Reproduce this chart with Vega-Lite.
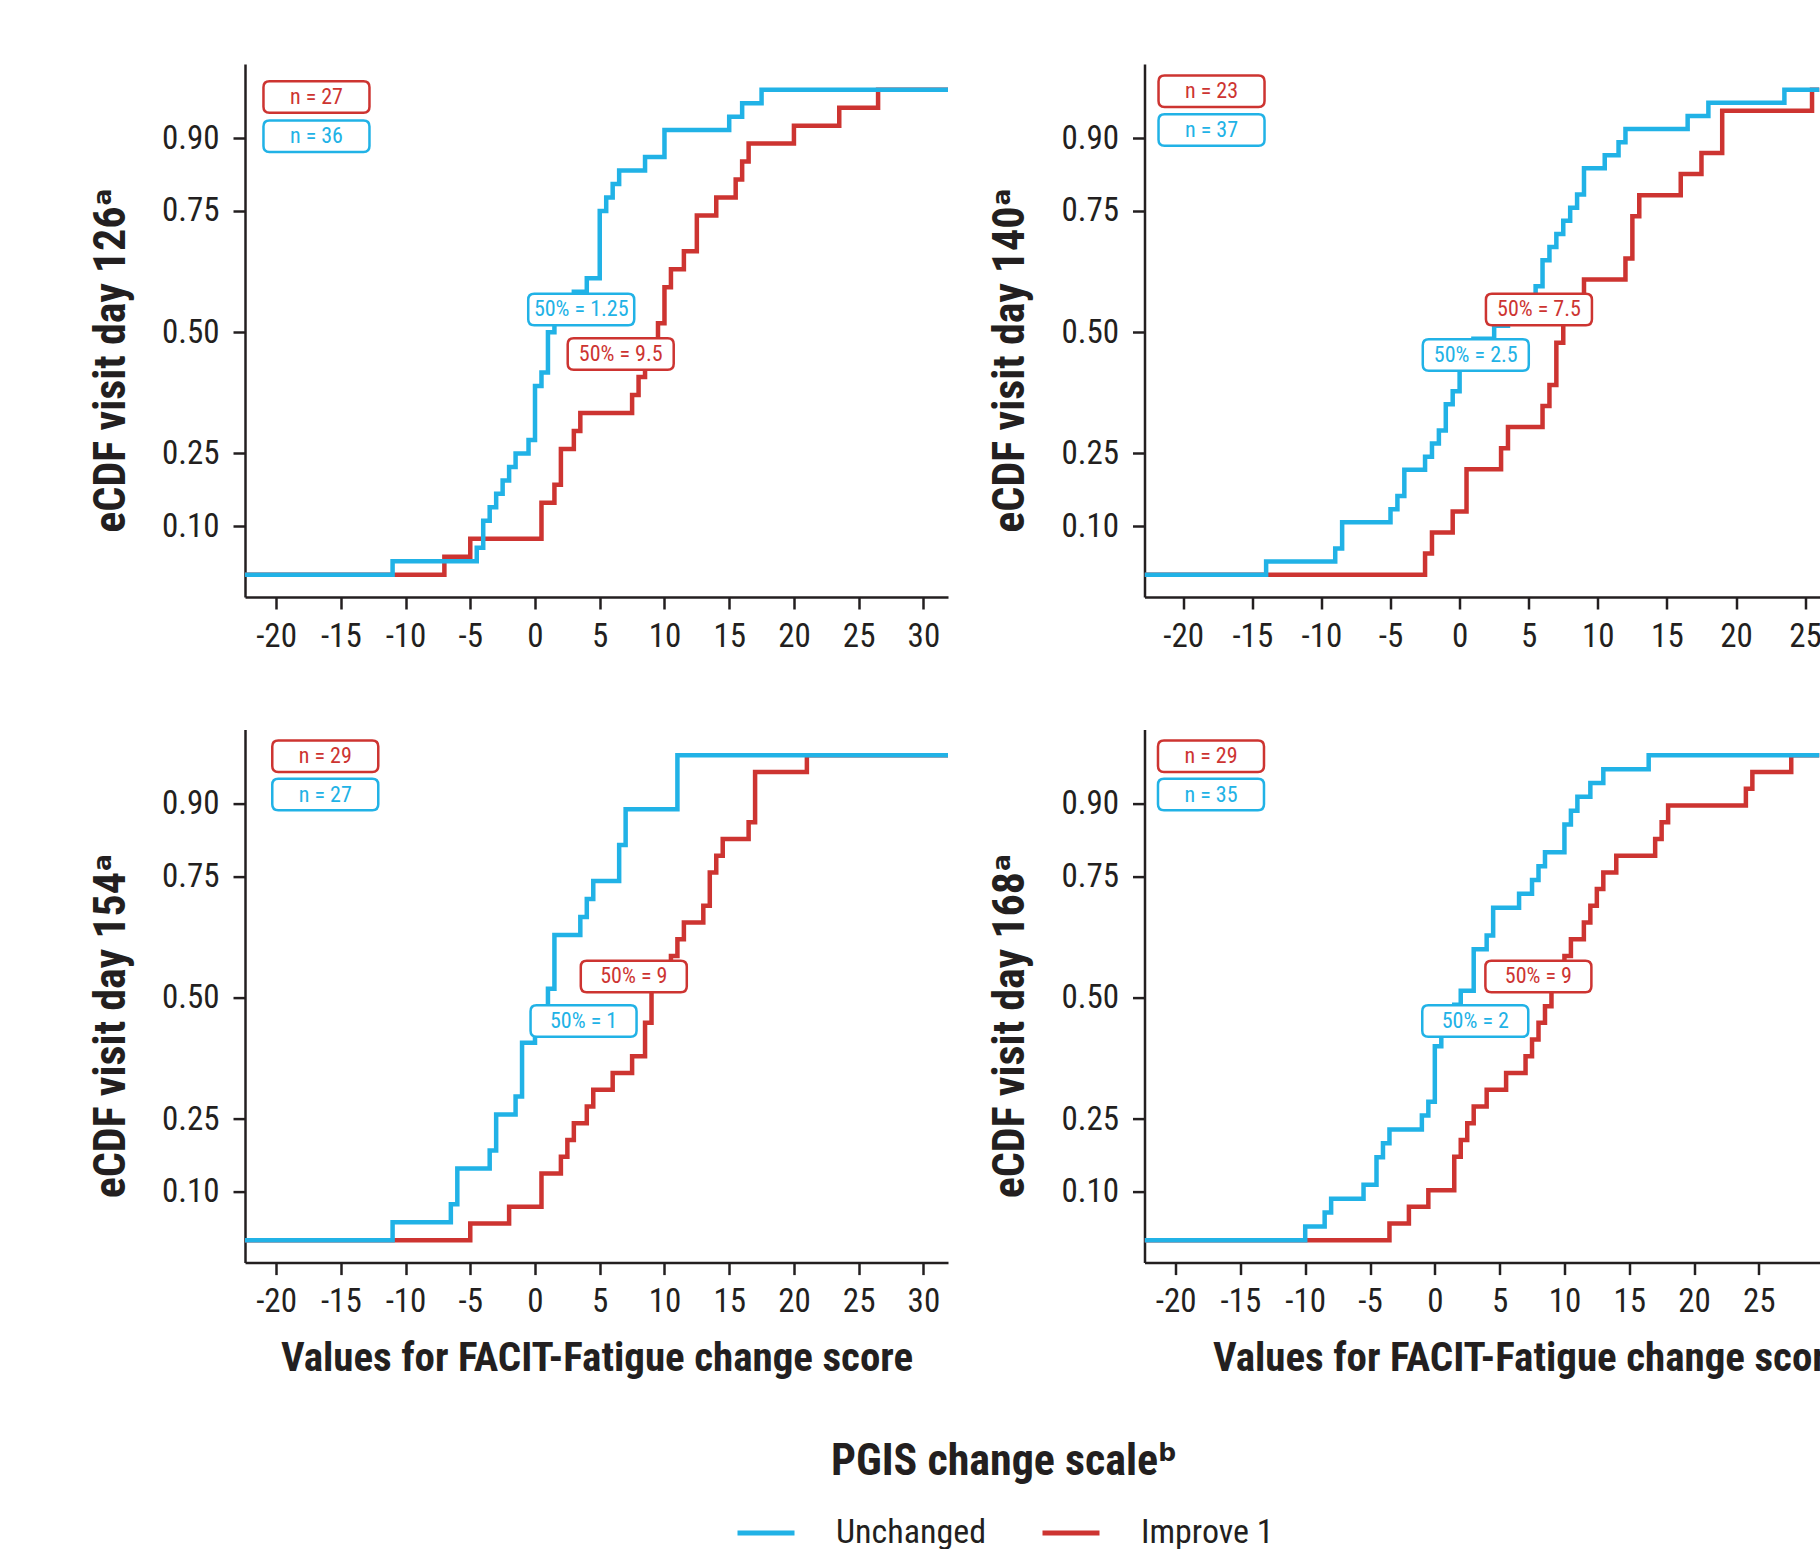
{
  "$schema": "https://vega.github.io/schema/vega-lite/v6.json",
  "padding": {"left": 89, "top": 64, "right": 0, "bottom": 0},
  "config": {
    "font": "Roboto Condensed, DejaVu Sans Condensed, Liberation Sans, sans-serif",
    "view": {"stroke": null},
    "axis": {
      "domainColor": "#231f20", "domainWidth": 2.5, "tickColor": "#231f20", "tickWidth": 2.5, "tickSize": 12,
      "labelFont": "Roboto Condensed, DejaVu Sans Condensed, Liberation Sans, sans-serif", "labelFontSize": 33, "labelColor": "#231f20",
      "titleFont": "Roboto Condensed, DejaVu Sans Condensed, Liberation Sans, sans-serif", "titleFontWeight": "bold", "titleColor": "#231f20",
      "grid": false, "labelOverlap": false, "labelBound": false
    },
    "axisX": {"labelPadding": 11},
    "axisY": {"labelPadding": 14}
  },
  "datasets": {
    "ecdf": [
      {"p":1,"g":"Unchanged","x":-22.4,"y":0},{"p":1,"g":"Unchanged","x":-11,"y":0.0278},{"p":1,"g":"Unchanged","x":-4.5,"y":0.0556},{"p":1,"g":"Unchanged","x":-4,"y":0.1111},{"p":1,"g":"Unchanged","x":-3.5,"y":0.1389},{"p":1,"g":"Unchanged","x":-3,"y":0.1667},{"p":1,"g":"Unchanged","x":-2.5,"y":0.1944},{"p":1,"g":"Unchanged","x":-2,"y":0.2222},{"p":1,"g":"Unchanged","x":-1.5,"y":0.25},{"p":1,"g":"Unchanged","x":-0.5,"y":0.2778},{"p":1,"g":"Unchanged","x":0,"y":0.3889},{"p":1,"g":"Unchanged","x":0.5,"y":0.4167},{"p":1,"g":"Unchanged","x":1,"y":0.5},{"p":1,"g":"Unchanged","x":1.5,"y":0.5278},{"p":1,"g":"Unchanged","x":2.5,"y":0.5556},{"p":1,"g":"Unchanged","x":3,"y":0.5833},{"p":1,"g":"Unchanged","x":4,"y":0.6111},{"p":1,"g":"Unchanged","x":5,"y":0.75},{"p":1,"g":"Unchanged","x":5.5,"y":0.7778},{"p":1,"g":"Unchanged","x":6,"y":0.8056},{"p":1,"g":"Unchanged","x":6.5,"y":0.8333},{"p":1,"g":"Unchanged","x":8.5,"y":0.8611},{"p":1,"g":"Unchanged","x":10,"y":0.9167},{"p":1,"g":"Unchanged","x":15,"y":0.9444},{"p":1,"g":"Unchanged","x":16,"y":0.9722},{"p":1,"g":"Unchanged","x":17.5,"y":1},{"p":1,"g":"Unchanged","x":31.9,"y":1},
      {"p":1,"g":"Improve 1","x":-22.4,"y":0},{"p":1,"g":"Improve 1","x":-7,"y":0.037},{"p":1,"g":"Improve 1","x":-5,"y":0.0741},{"p":1,"g":"Improve 1","x":0.5,"y":0.1481},{"p":1,"g":"Improve 1","x":1.5,"y":0.1852},{"p":1,"g":"Improve 1","x":2,"y":0.2593},{"p":1,"g":"Improve 1","x":3,"y":0.2963},{"p":1,"g":"Improve 1","x":3.5,"y":0.3333},{"p":1,"g":"Improve 1","x":7.5,"y":0.3704},{"p":1,"g":"Improve 1","x":8,"y":0.4074},{"p":1,"g":"Improve 1","x":8.5,"y":0.4444},{"p":1,"g":"Improve 1","x":9,"y":0.4815},{"p":1,"g":"Improve 1","x":9.5,"y":0.5185},{"p":1,"g":"Improve 1","x":10,"y":0.5926},{"p":1,"g":"Improve 1","x":10.5,"y":0.6296},{"p":1,"g":"Improve 1","x":11.5,"y":0.6667},{"p":1,"g":"Improve 1","x":12.5,"y":0.7407},{"p":1,"g":"Improve 1","x":14,"y":0.7778},{"p":1,"g":"Improve 1","x":15.5,"y":0.8148},{"p":1,"g":"Improve 1","x":16,"y":0.8519},{"p":1,"g":"Improve 1","x":16.5,"y":0.8889},{"p":1,"g":"Improve 1","x":20,"y":0.9259},{"p":1,"g":"Improve 1","x":23.5,"y":0.963},{"p":1,"g":"Improve 1","x":26.5,"y":1},{"p":1,"g":"Improve 1","x":31.9,"y":1},
      {"p":2,"g":"Unchanged","x":-22.8,"y":0},{"p":2,"g":"Unchanged","x":-14,"y":0.027},{"p":2,"g":"Unchanged","x":-9,"y":0.0541},{"p":2,"g":"Unchanged","x":-8.5,"y":0.1081},{"p":2,"g":"Unchanged","x":-5,"y":0.1351},{"p":2,"g":"Unchanged","x":-4.5,"y":0.1622},{"p":2,"g":"Unchanged","x":-4,"y":0.2162},{"p":2,"g":"Unchanged","x":-2.5,"y":0.2432},{"p":2,"g":"Unchanged","x":-2,"y":0.2703},{"p":2,"g":"Unchanged","x":-1.5,"y":0.2973},{"p":2,"g":"Unchanged","x":-1,"y":0.3514},{"p":2,"g":"Unchanged","x":-0.5,"y":0.3784},{"p":2,"g":"Unchanged","x":0,"y":0.4324},{"p":2,"g":"Unchanged","x":0.5,"y":0.4595},{"p":2,"g":"Unchanged","x":1,"y":0.4865},{"p":2,"g":"Unchanged","x":2.5,"y":0.5135},{"p":2,"g":"Unchanged","x":3.5,"y":0.5405},{"p":2,"g":"Unchanged","x":4.5,"y":0.5676},{"p":2,"g":"Unchanged","x":5.5,"y":0.5946},{"p":2,"g":"Unchanged","x":6,"y":0.6486},{"p":2,"g":"Unchanged","x":6.5,"y":0.6757},{"p":2,"g":"Unchanged","x":7,"y":0.7027},{"p":2,"g":"Unchanged","x":7.5,"y":0.7297},{"p":2,"g":"Unchanged","x":8,"y":0.7568},{"p":2,"g":"Unchanged","x":8.5,"y":0.7838},{"p":2,"g":"Unchanged","x":9,"y":0.8378},{"p":2,"g":"Unchanged","x":10.5,"y":0.8649},{"p":2,"g":"Unchanged","x":11.5,"y":0.8919},{"p":2,"g":"Unchanged","x":12,"y":0.9189},{"p":2,"g":"Unchanged","x":16.5,"y":0.9459},{"p":2,"g":"Unchanged","x":18,"y":0.973},{"p":2,"g":"Unchanged","x":23.5,"y":1},{"p":2,"g":"Unchanged","x":26.04,"y":1},
      {"p":2,"g":"Improve 1","x":-22.8,"y":0},{"p":2,"g":"Improve 1","x":-2.5,"y":0.0435},{"p":2,"g":"Improve 1","x":-2,"y":0.087},{"p":2,"g":"Improve 1","x":-0.5,"y":0.1304},{"p":2,"g":"Improve 1","x":0.5,"y":0.2174},{"p":2,"g":"Improve 1","x":3,"y":0.2609},{"p":2,"g":"Improve 1","x":3.5,"y":0.3043},{"p":2,"g":"Improve 1","x":6,"y":0.3478},{"p":2,"g":"Improve 1","x":6.5,"y":0.3913},{"p":2,"g":"Improve 1","x":7,"y":0.4783},{"p":2,"g":"Improve 1","x":7.5,"y":0.5217},{"p":2,"g":"Improve 1","x":8,"y":0.5652},{"p":2,"g":"Improve 1","x":9,"y":0.6087},{"p":2,"g":"Improve 1","x":12,"y":0.6522},{"p":2,"g":"Improve 1","x":12.5,"y":0.7391},{"p":2,"g":"Improve 1","x":13,"y":0.7826},{"p":2,"g":"Improve 1","x":16,"y":0.8261},{"p":2,"g":"Improve 1","x":17.5,"y":0.8696},{"p":2,"g":"Improve 1","x":19,"y":0.9565},{"p":2,"g":"Improve 1","x":25.5,"y":1},{"p":2,"g":"Improve 1","x":26.04,"y":1},
      {"p":3,"g":"Unchanged","x":-22.4,"y":0},{"p":3,"g":"Unchanged","x":-11,"y":0.037},{"p":3,"g":"Unchanged","x":-6.5,"y":0.0741},{"p":3,"g":"Unchanged","x":-6,"y":0.1481},{"p":3,"g":"Unchanged","x":-3.5,"y":0.1852},{"p":3,"g":"Unchanged","x":-3,"y":0.2593},{"p":3,"g":"Unchanged","x":-1.5,"y":0.2963},{"p":3,"g":"Unchanged","x":-1,"y":0.4074},{"p":3,"g":"Unchanged","x":0,"y":0.4444},{"p":3,"g":"Unchanged","x":0.5,"y":0.4815},{"p":3,"g":"Unchanged","x":1,"y":0.5185},{"p":3,"g":"Unchanged","x":1.5,"y":0.6296},{"p":3,"g":"Unchanged","x":3.5,"y":0.6667},{"p":3,"g":"Unchanged","x":4,"y":0.7037},{"p":3,"g":"Unchanged","x":4.5,"y":0.7407},{"p":3,"g":"Unchanged","x":6.5,"y":0.8148},{"p":3,"g":"Unchanged","x":7,"y":0.8889},{"p":3,"g":"Unchanged","x":11,"y":1},{"p":3,"g":"Unchanged","x":31.9,"y":1},
      {"p":3,"g":"Improve 1","x":-22.4,"y":0},{"p":3,"g":"Improve 1","x":-5,"y":0.0345},{"p":3,"g":"Improve 1","x":-2,"y":0.069},{"p":3,"g":"Improve 1","x":0.5,"y":0.1379},{"p":3,"g":"Improve 1","x":2,"y":0.1724},{"p":3,"g":"Improve 1","x":2.5,"y":0.2069},{"p":3,"g":"Improve 1","x":3,"y":0.2414},{"p":3,"g":"Improve 1","x":4,"y":0.2759},{"p":3,"g":"Improve 1","x":4.5,"y":0.3103},{"p":3,"g":"Improve 1","x":6,"y":0.3448},{"p":3,"g":"Improve 1","x":7.5,"y":0.3793},{"p":3,"g":"Improve 1","x":8.5,"y":0.4483},{"p":3,"g":"Improve 1","x":9,"y":0.5172},{"p":3,"g":"Improve 1","x":9.5,"y":0.5517},{"p":3,"g":"Improve 1","x":10.5,"y":0.5862},{"p":3,"g":"Improve 1","x":11,"y":0.6207},{"p":3,"g":"Improve 1","x":11.5,"y":0.6552},{"p":3,"g":"Improve 1","x":13,"y":0.6897},{"p":3,"g":"Improve 1","x":13.5,"y":0.7586},{"p":3,"g":"Improve 1","x":14,"y":0.7931},{"p":3,"g":"Improve 1","x":14.5,"y":0.8276},{"p":3,"g":"Improve 1","x":16.5,"y":0.8621},{"p":3,"g":"Improve 1","x":17,"y":0.9655},{"p":3,"g":"Improve 1","x":21,"y":1},{"p":3,"g":"Improve 1","x":31.9,"y":1},
      {"p":4,"g":"Unchanged","x":-22.4,"y":0},{"p":4,"g":"Unchanged","x":-10,"y":0.0286},{"p":4,"g":"Unchanged","x":-8.5,"y":0.0571},{"p":4,"g":"Unchanged","x":-8,"y":0.0857},{"p":4,"g":"Unchanged","x":-5.5,"y":0.1143},{"p":4,"g":"Unchanged","x":-4.5,"y":0.1714},{"p":4,"g":"Unchanged","x":-4,"y":0.2},{"p":4,"g":"Unchanged","x":-3.5,"y":0.2286},{"p":4,"g":"Unchanged","x":-1,"y":0.2571},{"p":4,"g":"Unchanged","x":-0.5,"y":0.2857},{"p":4,"g":"Unchanged","x":0,"y":0.4},{"p":4,"g":"Unchanged","x":0.5,"y":0.4286},{"p":4,"g":"Unchanged","x":1,"y":0.4571},{"p":4,"g":"Unchanged","x":1.5,"y":0.4857},{"p":4,"g":"Unchanged","x":2,"y":0.5143},{"p":4,"g":"Unchanged","x":3,"y":0.6},{"p":4,"g":"Unchanged","x":4,"y":0.6286},{"p":4,"g":"Unchanged","x":4.5,"y":0.6857},{"p":4,"g":"Unchanged","x":6.5,"y":0.7143},{"p":4,"g":"Unchanged","x":7.5,"y":0.7429},{"p":4,"g":"Unchanged","x":8,"y":0.7714},{"p":4,"g":"Unchanged","x":8.5,"y":0.8},{"p":4,"g":"Unchanged","x":10,"y":0.8571},{"p":4,"g":"Unchanged","x":10.5,"y":0.8857},{"p":4,"g":"Unchanged","x":11,"y":0.9143},{"p":4,"g":"Unchanged","x":12,"y":0.9429},{"p":4,"g":"Unchanged","x":13,"y":0.9714},{"p":4,"g":"Unchanged","x":16.5,"y":1},{"p":4,"g":"Unchanged","x":29.68,"y":1},
      {"p":4,"g":"Improve 1","x":-22.4,"y":0},{"p":4,"g":"Improve 1","x":-3.5,"y":0.0345},{"p":4,"g":"Improve 1","x":-2,"y":0.069},{"p":4,"g":"Improve 1","x":-0.5,"y":0.1034},{"p":4,"g":"Improve 1","x":1.5,"y":0.1724},{"p":4,"g":"Improve 1","x":2,"y":0.2069},{"p":4,"g":"Improve 1","x":2.5,"y":0.2414},{"p":4,"g":"Improve 1","x":3,"y":0.2759},{"p":4,"g":"Improve 1","x":4,"y":0.3103},{"p":4,"g":"Improve 1","x":5.5,"y":0.3448},{"p":4,"g":"Improve 1","x":7,"y":0.3793},{"p":4,"g":"Improve 1","x":7.5,"y":0.4138},{"p":4,"g":"Improve 1","x":8,"y":0.4483},{"p":4,"g":"Improve 1","x":8.5,"y":0.4828},{"p":4,"g":"Improve 1","x":9,"y":0.5172},{"p":4,"g":"Improve 1","x":9.5,"y":0.5517},{"p":4,"g":"Improve 1","x":10,"y":0.5862},{"p":4,"g":"Improve 1","x":10.5,"y":0.6207},{"p":4,"g":"Improve 1","x":11.5,"y":0.6552},{"p":4,"g":"Improve 1","x":12,"y":0.6897},{"p":4,"g":"Improve 1","x":12.5,"y":0.7241},{"p":4,"g":"Improve 1","x":13,"y":0.7586},{"p":4,"g":"Improve 1","x":14,"y":0.7931},{"p":4,"g":"Improve 1","x":17,"y":0.8276},{"p":4,"g":"Improve 1","x":17.5,"y":0.8621},{"p":4,"g":"Improve 1","x":18,"y":0.8966},{"p":4,"g":"Improve 1","x":24,"y":0.931},{"p":4,"g":"Improve 1","x":24.5,"y":0.9655},{"p":4,"g":"Improve 1","x":27.5,"y":1},{"p":4,"g":"Improve 1","x":29.68,"y":1}
    ],
    "lab": [
      {"p":1,"g":"Improve 1","x":-16.88,"y":0.985,"t":"n = 27"},{"p":1,"g":"Unchanged","x":-16.88,"y":0.904,"t":"n = 36"},{"p":1,"g":"Unchanged","x":3.57,"y":0.547,"t":"50% = 1.25"},{"p":1,"g":"Improve 1","x":6.62,"y":0.455,"t":"50% = 9.5"},
      {"p":2,"g":"Improve 1","x":-17.95,"y":0.997,"t":"n = 23"},{"p":2,"g":"Unchanged","x":-17.95,"y":0.917,"t":"n = 37"},{"p":2,"g":"Improve 1","x":5.74,"y":0.547,"t":"50% = 7.5"},{"p":2,"g":"Unchanged","x":1.17,"y":0.453,"t":"50% = 2.5"},
      {"p":3,"g":"Improve 1","x":-16.2,"y":0.998,"t":"n = 29"},{"p":3,"g":"Unchanged","x":-16.2,"y":0.919,"t":"n = 27"},{"p":3,"g":"Improve 1","x":7.63,"y":0.544,"t":"50% = 9"},{"p":3,"g":"Unchanged","x":3.75,"y":0.452,"t":"50% = 1"},
      {"p":4,"g":"Improve 1","x":-17.27,"y":0.998,"t":"n = 29"},{"p":4,"g":"Unchanged","x":-17.27,"y":0.919,"t":"n = 35"},{"p":4,"g":"Improve 1","x":7.99,"y":0.544,"t":"50% = 9"},{"p":4,"g":"Unchanged","x":3.12,"y":0.452,"t":"50% = 2"}
    ]
  },
  "columns": 2,
  "spacing": {"row": 132.6, "column": 196.5},
  "bounds": "flush",
  "concat": [
    {
      "width": 703, "height": 533,
      "encoding": {
        "x": {"field": "x", "type": "quantitative", "scale": {"domain": [-22.4, 31.9], "nice": false, "zero": false}, "axis": {"values": [-20,-15,-10,-5,0,5,10,15,20,25,30], "labelExpr": "datum.value + ''", "title": null}},
        "y": {"field": "y", "type": "quantitative", "scale": {"domain": [-0.046, 1.053], "nice": false, "zero": false}, "axis": {"values": [0.1,0.25,0.5,0.75,0.9], "format": ".2f", "title": "eCDF visit day 126ᵃ", "titleFontSize": 44, "titleX": -121, "titleY": 296, "titleAlign": "center", "titleBaseline": "alphabetic", "titleAngle": -90}}
      },
      "layer": [
        {"data": {"name": "ecdf"}, "transform": [{"filter": "datum.p == 1 && datum.g == 'Improve 1'"}], "mark": {"type": "line", "interpolate": "step-after", "strokeWidth": 4.5, "clip": true}, "encoding": {"color": {"field": "g", "type": "nominal", "scale": {"domain": ["Unchanged", "Improve 1"], "range": ["#21b2e6", "#cd3431"]}, "legend": {"orient": "none", "legendX": 490, "legendY": 1376, "direction": "horizontal", "title": "PGIS change scaleᵇ", "titleOrient": "top", "titleAnchor": "middle", "titleFontSize": 44, "titleFontWeight": "bold", "titleColor": "#231f20", "titleLimit": 2000, "titlePadding": 18, "labelFontSize": 34, "labelColor": "#231f20", "labelLimit": 600, "symbolType": "stroke", "symbolSize": 3249, "symbolStrokeWidth": 5, "labelOffset": 39, "columnPadding": 45, "padding": 0}}}},
        {"data": {"name": "ecdf"}, "transform": [{"filter": "datum.p == 1 && datum.g == 'Unchanged'"}], "mark": {"type": "line", "interpolate": "step-after", "strokeWidth": 4.5, "clip": true}, "encoding": {"color": {"field": "g", "type": "nominal", "scale": {"domain": ["Unchanged", "Improve 1"], "range": ["#21b2e6", "#cd3431"]}}}},
        {"data": {"name": "lab"}, "transform": [{"filter": "datum.p == 1"}], "mark": {"type": "point", "shape": "M -0.887 -0.297 L 0.887 -0.297 Q 1 -0.297 1 -0.184 L 1 0.184 Q 1 0.297 0.887 0.297 L -0.887 0.297 Q -1 0.297 -1 0.184 L -1 -0.184 Q -1 -0.297 -0.887 -0.297 Z", "size": 11236, "filled": true, "fill": "white", "fillOpacity": 1, "opacity": 1, "strokeWidth": 2.5}, "encoding": {"stroke": {"field": "g", "type": "nominal", "scale": {"domain": ["Unchanged", "Improve 1"], "range": ["#21b2e6", "#cd3431"]}, "legend": null}}},
        {"data": {"name": "lab"}, "transform": [{"filter": "datum.p == 1"}], "mark": {"type": "text", "fontSize": 22, "align": "center", "baseline": "middle"}, "encoding": {"text": {"field": "t"}, "fill": {"field": "g", "type": "nominal", "scale": {"domain": ["Unchanged", "Improve 1"], "range": ["#21b2e6", "#cd3431"]}, "legend": null}}}
      ]
    },
    {
      "width": 675, "height": 533,
      "encoding": {
        "x": {"field": "x", "type": "quantitative", "scale": {"domain": [-22.8, 26.04], "nice": false, "zero": false}, "axis": {"values": [-20,-15,-10,-5,0,5,10,15,20,25], "labelExpr": "datum.value + ''", "title": null}},
        "y": {"field": "y", "type": "quantitative", "scale": {"domain": [-0.046, 1.053], "nice": false, "zero": false}, "axis": {"values": [0.1,0.25,0.5,0.75,0.9], "format": ".2f", "title": "eCDF visit day 140ᵃ", "titleFontSize": 44, "titleX": -121, "titleY": 296, "titleAlign": "center", "titleBaseline": "alphabetic", "titleAngle": -90}}
      },
      "layer": [
        {"data": {"name": "ecdf"}, "transform": [{"filter": "datum.p == 2 && datum.g == 'Improve 1'"}], "mark": {"type": "line", "interpolate": "step-after", "strokeWidth": 4.5, "clip": true}, "encoding": {"color": {"field": "g", "type": "nominal", "scale": {"domain": ["Unchanged", "Improve 1"], "range": ["#21b2e6", "#cd3431"]}}}},
        {"data": {"name": "ecdf"}, "transform": [{"filter": "datum.p == 2 && datum.g == 'Unchanged'"}], "mark": {"type": "line", "interpolate": "step-after", "strokeWidth": 4.5, "clip": true}, "encoding": {"color": {"field": "g", "type": "nominal", "scale": {"domain": ["Unchanged", "Improve 1"], "range": ["#21b2e6", "#cd3431"]}}}},
        {"data": {"name": "lab"}, "transform": [{"filter": "datum.p == 2"}], "mark": {"type": "point", "shape": "M -0.887 -0.297 L 0.887 -0.297 Q 1 -0.297 1 -0.184 L 1 0.184 Q 1 0.297 0.887 0.297 L -0.887 0.297 Q -1 0.297 -1 0.184 L -1 -0.184 Q -1 -0.297 -0.887 -0.297 Z", "size": 11236, "filled": true, "fill": "white", "fillOpacity": 1, "opacity": 1, "strokeWidth": 2.5}, "encoding": {"stroke": {"field": "g", "type": "nominal", "scale": {"domain": ["Unchanged", "Improve 1"], "range": ["#21b2e6", "#cd3431"]}, "legend": null}}},
        {"data": {"name": "lab"}, "transform": [{"filter": "datum.p == 2"}], "mark": {"type": "text", "fontSize": 22, "align": "center", "baseline": "middle"}, "encoding": {"text": {"field": "t"}, "fill": {"field": "g", "type": "nominal", "scale": {"domain": ["Unchanged", "Improve 1"], "range": ["#21b2e6", "#cd3431"]}, "legend": null}}}
      ]
    },
    {
      "width": 703, "height": 533,
      "encoding": {
        "x": {"field": "x", "type": "quantitative", "scale": {"domain": [-22.4, 31.9], "nice": false, "zero": false}, "axis": {"values": [-20,-15,-10,-5,0,5,10,15,20,25,30], "labelExpr": "datum.value + ''", "title": "Values for FACIT-Fatigue change score", "titleFontSize": 41, "titleX": 351.5, "titleY": 108, "titleAlign": "center", "titleBaseline": "alphabetic"}},
        "y": {"field": "y", "type": "quantitative", "scale": {"domain": [-0.046, 1.053], "nice": false, "zero": false}, "axis": {"values": [0.1,0.25,0.5,0.75,0.9], "format": ".2f", "title": "eCDF visit day 154ᵃ", "titleFontSize": 44, "titleX": -121, "titleY": 296, "titleAlign": "center", "titleBaseline": "alphabetic", "titleAngle": -90}}
      },
      "layer": [
        {"data": {"name": "ecdf"}, "transform": [{"filter": "datum.p == 3 && datum.g == 'Improve 1'"}], "mark": {"type": "line", "interpolate": "step-after", "strokeWidth": 4.5, "clip": true}, "encoding": {"color": {"field": "g", "type": "nominal", "scale": {"domain": ["Unchanged", "Improve 1"], "range": ["#21b2e6", "#cd3431"]}}}},
        {"data": {"name": "ecdf"}, "transform": [{"filter": "datum.p == 3 && datum.g == 'Unchanged'"}], "mark": {"type": "line", "interpolate": "step-after", "strokeWidth": 4.5, "clip": true}, "encoding": {"color": {"field": "g", "type": "nominal", "scale": {"domain": ["Unchanged", "Improve 1"], "range": ["#21b2e6", "#cd3431"]}}}},
        {"data": {"name": "lab"}, "transform": [{"filter": "datum.p == 3"}], "mark": {"type": "point", "shape": "M -0.887 -0.297 L 0.887 -0.297 Q 1 -0.297 1 -0.184 L 1 0.184 Q 1 0.297 0.887 0.297 L -0.887 0.297 Q -1 0.297 -1 0.184 L -1 -0.184 Q -1 -0.297 -0.887 -0.297 Z", "size": 11236, "filled": true, "fill": "white", "fillOpacity": 1, "opacity": 1, "strokeWidth": 2.5}, "encoding": {"stroke": {"field": "g", "type": "nominal", "scale": {"domain": ["Unchanged", "Improve 1"], "range": ["#21b2e6", "#cd3431"]}, "legend": null}}},
        {"data": {"name": "lab"}, "transform": [{"filter": "datum.p == 3"}], "mark": {"type": "text", "fontSize": 22, "align": "center", "baseline": "middle"}, "encoding": {"text": {"field": "t"}, "fill": {"field": "g", "type": "nominal", "scale": {"domain": ["Unchanged", "Improve 1"], "range": ["#21b2e6", "#cd3431"]}, "legend": null}}}
      ]
    },
    {
      "width": 675, "height": 533,
      "encoding": {
        "x": {"field": "x", "type": "quantitative", "scale": {"domain": [-22.4, 29.68], "nice": false, "zero": false}, "axis": {"values": [-20,-15,-10,-5,0,5,10,15,20,25], "labelExpr": "datum.value + ''", "title": "Values for FACIT-Fatigue change score", "titleFontSize": 41, "titleX": 384, "titleY": 108, "titleAlign": "center", "titleBaseline": "alphabetic"}},
        "y": {"field": "y", "type": "quantitative", "scale": {"domain": [-0.046, 1.053], "nice": false, "zero": false}, "axis": {"values": [0.1,0.25,0.5,0.75,0.9], "format": ".2f", "title": "eCDF visit day 168ᵃ", "titleFontSize": 44, "titleX": -121, "titleY": 296, "titleAlign": "center", "titleBaseline": "alphabetic", "titleAngle": -90}}
      },
      "layer": [
        {"data": {"name": "ecdf"}, "transform": [{"filter": "datum.p == 4 && datum.g == 'Improve 1'"}], "mark": {"type": "line", "interpolate": "step-after", "strokeWidth": 4.5, "clip": true}, "encoding": {"color": {"field": "g", "type": "nominal", "scale": {"domain": ["Unchanged", "Improve 1"], "range": ["#21b2e6", "#cd3431"]}}}},
        {"data": {"name": "ecdf"}, "transform": [{"filter": "datum.p == 4 && datum.g == 'Unchanged'"}], "mark": {"type": "line", "interpolate": "step-after", "strokeWidth": 4.5, "clip": true}, "encoding": {"color": {"field": "g", "type": "nominal", "scale": {"domain": ["Unchanged", "Improve 1"], "range": ["#21b2e6", "#cd3431"]}}}},
        {"data": {"name": "lab"}, "transform": [{"filter": "datum.p == 4"}], "mark": {"type": "point", "shape": "M -0.887 -0.297 L 0.887 -0.297 Q 1 -0.297 1 -0.184 L 1 0.184 Q 1 0.297 0.887 0.297 L -0.887 0.297 Q -1 0.297 -1 0.184 L -1 -0.184 Q -1 -0.297 -0.887 -0.297 Z", "size": 11236, "filled": true, "fill": "white", "fillOpacity": 1, "opacity": 1, "strokeWidth": 2.5}, "encoding": {"stroke": {"field": "g", "type": "nominal", "scale": {"domain": ["Unchanged", "Improve 1"], "range": ["#21b2e6", "#cd3431"]}, "legend": null}}},
        {"data": {"name": "lab"}, "transform": [{"filter": "datum.p == 4"}], "mark": {"type": "text", "fontSize": 22, "align": "center", "baseline": "middle"}, "encoding": {"text": {"field": "t"}, "fill": {"field": "g", "type": "nominal", "scale": {"domain": ["Unchanged", "Improve 1"], "range": ["#21b2e6", "#cd3431"]}, "legend": null}}}
      ]
    }
  ]
}
